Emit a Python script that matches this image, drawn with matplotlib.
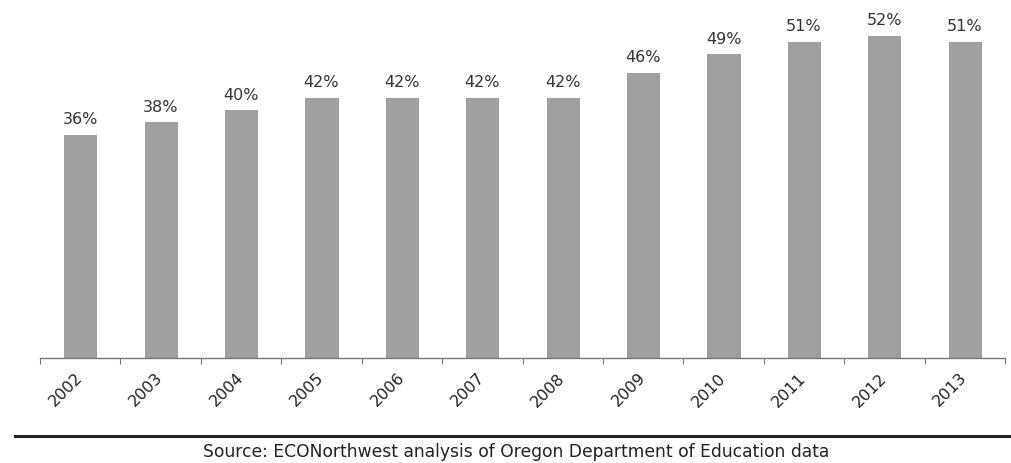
import matplotlib
matplotlib.use("Agg")
import matplotlib.pyplot as plt
from matplotlib.lines import Line2D
import numpy as np

years = ["2002", "2003", "2004", "2005", "2006", "2007",
         "2008", "2009", "2010", "2011", "2012", "2013"]
shares = [36, 38, 40, 42, 42, 42, 42, 46, 49, 51, 52, 51]
source_note = "Source: ECONorthwest analysis of Oregon Department of Education data"

plt.rcParams["font.family"] = ["DejaVu Sans"]

fig = plt.figure(figsize=(10.11, 4.64), dpi=100)
ax = fig.add_axes([40 / 1011, 105 / 464, 965 / 1011, 359 / 464])

x = np.arange(len(years))
ax.bar(x, shares, width=0.4, color="#a0a0a0", edgecolor="#969696", linewidth=0.6)

for xi, v in zip(x, shares):
    ax.annotate(f"{v}%", (xi, v), xytext=(0, 6), textcoords="offset points",
                ha="center", va="bottom", fontsize=11.5, color="#333333")

ax.set_xlim(-0.5, len(years) - 0.5)
ax.set_ylim(0, 57.9)

for s in ["top", "right", "left"]:
    ax.spines[s].set_visible(False)
ax.spines["bottom"].set_color("#777777")
ax.spines["bottom"].set_linewidth(1.0)
ax.set_yticks([])

ax.set_xticks(x)
ax.set_xticklabels(years, rotation=45, ha="right", va="center",
                   rotation_mode="anchor", fontsize=11.5, color="#222222")
ax.tick_params(axis="x", which="major", length=0, pad=12)
ax.set_xticks(np.arange(-0.5, len(years)), minor=True)
ax.tick_params(axis="x", which="minor", length=4, width=0.8, color="#777777")

fig.add_artist(Line2D([15 / 1011, 1.0], [1 - 437 / 464, 1 - 437 / 464],
                      transform=fig.transFigure, color="#222222", linewidth=2.2))
fig.text(516 / 1011, 1 - 452 / 464, source_note, ha="center", va="center",
         fontsize=12.3, color="#222222")

fig.savefig("out.png", dpi=100)
